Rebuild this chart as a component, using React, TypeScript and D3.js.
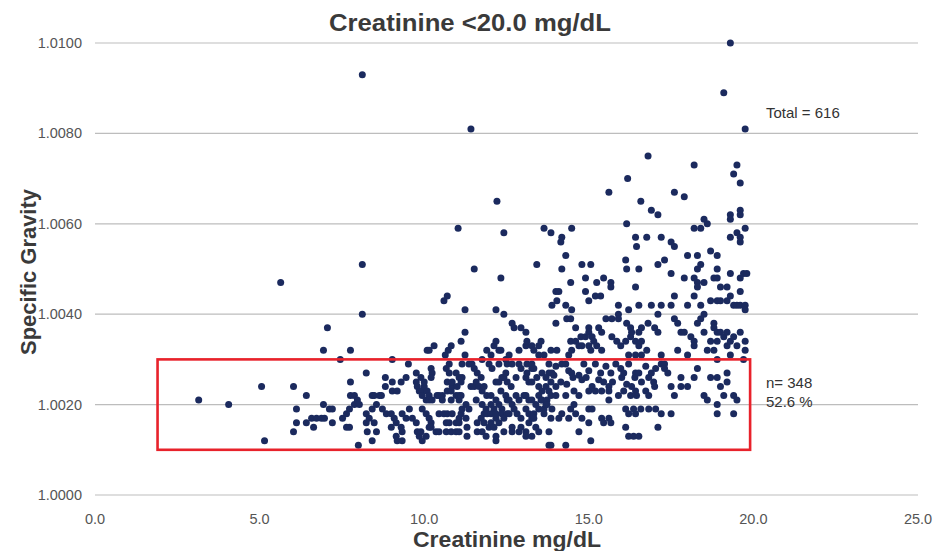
import React, { useEffect, useRef } from 'react';
import * as d3 from 'd3';

// creatinine (mg/dL), specific gravity
const samples: [number, number][] = [
  [3.15, 1.0021], [4.06, 1.0020], [5.06, 1.0024], [5.15, 1.0012], [5.64, 1.0047],
  [6.03, 1.0024], [6.03, 1.0014], [6.12, 1.0019], [6.12, 1.0016], [6.42, 1.0022],
  [6.42, 1.0016], [6.58, 1.0017], [6.64, 1.0015], [6.73, 1.0017], [6.88, 1.0017],
  [6.97, 1.0017], [6.94, 1.0020], [6.94, 1.0032], [7.06, 1.0037], [7.12, 1.0019],
  [7.21, 1.0019], [7.21, 1.0016], [7.45, 1.0030], [7.52, 1.0017], [7.64, 1.0018],
  [7.64, 1.0015], [7.73, 1.0015], [7.73, 1.0019], [7.76, 1.0032], [7.76, 1.0025],
  [7.76, 1.0022], [7.88, 1.0022], [7.88, 1.0020], [7.97, 1.0021], [8.03, 1.0020],
  [8.0, 1.0011], [8.12, 1.0093], [8.12, 1.0051], [8.12, 1.0040], [8.24, 1.0027],
  [8.24, 1.0018], [8.24, 1.0016], [8.27, 1.0014], [8.33, 1.0017], [8.42, 1.0022],
  [8.42, 1.0019], [8.42, 1.0012], [8.48, 1.0022], [8.48, 1.0016], [8.55, 1.0020],
  [8.55, 1.0014], [8.64, 1.0022], [8.7, 1.0022], [8.73, 1.0019], [8.82, 1.0026],
  [8.82, 1.0024], [8.85, 1.0018], [9.0, 1.0018], [9.0, 1.0015], [9.03, 1.0030],
  [9.03, 1.0025], [9.03, 1.0023], [9.09, 1.0017], [9.15, 1.0016], [9.15, 1.0013],
  [9.18, 1.0023], [9.18, 1.0012], [9.3, 1.0025], [9.3, 1.0015], [9.33, 1.0014],
  [9.33, 1.0012], [9.33, 1.0018], [9.45, 1.0026], [9.45, 1.0017], [9.52, 1.0029],
  [9.55, 1.0019], [9.64, 1.0017], [9.76, 1.0027], [9.76, 1.0025], [9.76, 1.0016],
  [9.79, 1.0024], [9.79, 1.0014], [9.85, 1.0023], [9.85, 1.0013], [9.9, 1.0026],
  [9.9, 1.0014], [9.9, 1.0023], [9.94, 1.0022], [9.94, 1.0012], [9.94, 1.0019],
  [10.0, 1.0024], [10.0, 1.0025], [10.06, 1.0021], [10.06, 1.0018], [10.06, 1.0013],
  [10.09, 1.0032], [10.09, 1.0023], [10.15, 1.0017], [10.15, 1.0022], [10.15, 1.0032],
  [10.15, 1.0021], [10.15, 1.0015], [10.21, 1.0016], [10.21, 1.0015], [10.21, 1.0028],
  [10.24, 1.0027], [10.21, 1.0026], [10.24, 1.0021], [10.3, 1.0033], [10.36, 1.0014],
  [10.39, 1.0022], [10.45, 1.0022], [10.45, 1.0018], [10.45, 1.0014], [10.55, 1.0022],
  [10.55, 1.0021], [10.6, 1.0043], [10.6, 1.0018], [10.64, 1.0031], [10.67, 1.0028],
  [10.67, 1.0016], [10.67, 1.0014], [10.7, 1.0044], [10.7, 1.0023], [10.7, 1.0025],
  [10.7, 1.0018], [10.73, 1.0032], [10.76, 1.0029], [10.76, 1.0027], [10.76, 1.0016],
  [10.82, 1.0033], [10.82, 1.0023], [10.82, 1.0014], [10.82, 1.0021], [10.85, 1.0024],
  [10.85, 1.0025], [10.85, 1.0018], [10.97, 1.0027], [10.97, 1.0014], [10.97, 1.0022],
  [10.97, 1.0016], [11.0, 1.0024], [11.03, 1.0059], [11.06, 1.0026], [11.06, 1.0022],
  [11.06, 1.0017], [11.06, 1.0016], [11.06, 1.0021], [11.06, 1.0014], [11.12, 1.0034],
  [11.12, 1.0025], [11.12, 1.0022], [11.12, 1.0018], [11.15, 1.0019], [11.15, 1.0029],
  [11.15, 1.0026], [11.24, 1.0041], [11.24, 1.0036], [11.24, 1.0031], [11.27, 1.0020],
  [11.27, 1.0017], [11.3, 1.0015], [11.3, 1.0013], [11.36, 1.0029], [11.36, 1.0019],
  [11.42, 1.0081], [11.42, 1.0024], [11.45, 1.0029], [11.52, 1.0050], [11.52, 1.0028],
  [11.52, 1.0024], [11.58, 1.0025], [11.58, 1.0021], [11.61, 1.0027], [11.61, 1.0016],
  [11.61, 1.0014], [11.67, 1.0024], [11.73, 1.0026], [11.73, 1.0017], [11.76, 1.0030],
  [11.76, 1.0020], [11.76, 1.0023], [11.76, 1.0014], [11.82, 1.0024], [11.82, 1.0016],
  [11.82, 1.0018], [11.88, 1.0019], [11.88, 1.0013], [11.9, 1.0032], [11.9, 1.0022],
  [11.91, 1.0018], [11.97, 1.0029], [11.97, 1.0015], [12.03, 1.0031], [12.03, 1.0020],
  [12.03, 1.0018], [12.03, 1.0022], [12.03, 1.0016], [12.06, 1.0028], [12.12, 1.0033],
  [12.12, 1.0019], [12.12, 1.0015], [12.18, 1.0034], [12.18, 1.0041], [12.18, 1.0025],
  [12.18, 1.0017], [12.18, 1.0012], [12.18, 1.0013], [12.18, 1.0021], [12.18, 1.0018],
  [12.21, 1.0065], [12.27, 1.0032], [12.27, 1.0025], [12.27, 1.0020], [12.27, 1.0016],
  [12.27, 1.0029], [12.33, 1.0048], [12.33, 1.0023], [12.33, 1.0032], [12.36, 1.0019],
  [12.36, 1.0026], [12.36, 1.0018], [12.42, 1.0058], [12.42, 1.0040], [12.42, 1.0026],
  [12.42, 1.0017], [12.42, 1.0014], [12.48, 1.0027], [12.48, 1.0022], [12.48, 1.0030],
  [12.52, 1.0029], [12.52, 1.0021], [12.52, 1.0018], [12.52, 1.0025], [12.58, 1.0031],
  [12.58, 1.0021], [12.58, 1.0018], [12.64, 1.0024], [12.67, 1.0038], [12.67, 1.0020],
  [12.67, 1.0014], [12.67, 1.0029], [12.67, 1.0015], [12.73, 1.0037], [12.73, 1.0019],
  [12.79, 1.0026], [12.79, 1.0022], [12.82, 1.0018], [12.88, 1.0014], [12.88, 1.0032],
  [12.88, 1.0029], [12.88, 1.0021], [12.94, 1.0037], [12.94, 1.0015], [12.94, 1.0028],
  [12.94, 1.0017], [13.03, 1.0022], [13.09, 1.0036], [13.09, 1.0026], [13.09, 1.0022],
  [13.09, 1.0014], [13.09, 1.0033], [13.09, 1.0019], [13.09, 1.0013], [13.12, 1.0034],
  [13.12, 1.0027], [13.12, 1.0029], [13.18, 1.0025], [13.18, 1.0021], [13.18, 1.0018],
  [13.18, 1.0016], [13.27, 1.0033], [13.27, 1.0028], [13.27, 1.0025], [13.27, 1.0021],
  [13.27, 1.0017], [13.27, 1.0013], [13.27, 1.0029], [13.33, 1.0032], [13.33, 1.0018],
  [13.33, 1.0028], [13.33, 1.0017], [13.39, 1.0020], [13.39, 1.0015], [13.42, 1.0051],
  [13.42, 1.0026], [13.48, 1.0033], [13.48, 1.0031], [13.48, 1.0024], [13.48, 1.0022],
  [13.48, 1.0019], [13.48, 1.0014], [13.55, 1.0034], [13.55, 1.0021], [13.58, 1.0027],
  [13.58, 1.0023], [13.58, 1.0021], [13.64, 1.0059], [13.64, 1.0031], [13.64, 1.0019],
  [13.64, 1.0018], [13.7, 1.0020], [13.7, 1.0026], [13.7, 1.0024], [13.73, 1.0021],
  [13.73, 1.0020], [13.79, 1.0027], [13.79, 1.0014], [13.79, 1.0029], [13.79, 1.0023],
  [13.79, 1.0011], [13.85, 1.0058], [13.85, 1.0032], [13.85, 1.0022], [13.85, 1.0025],
  [13.85, 1.0017], [13.85, 1.0011], [13.88, 1.0042], [13.88, 1.0027], [13.88, 1.0019],
  [13.94, 1.00265], [14.0, 1.0045], [14.0, 1.0038], [14.0, 1.00285], [14.0, 1.0024],
  [14.0, 1.0022], [14.03, 1.0043], [14.03, 1.0032], [14.09, 1.0045], [14.09, 1.0017],
  [14.15, 1.0056], [14.15, 1.0025], [14.18, 1.0057], [14.18, 1.0050], [14.18, 1.0029],
  [14.18, 1.0018], [14.3, 1.0053], [14.3, 1.0042], [14.3, 1.0029], [14.3, 1.0022],
  [14.3, 1.0011], [14.33, 1.0039], [14.33, 1.00245], [14.39, 1.0031], [14.39, 1.00275],
  [14.39, 1.0017], [14.45, 1.0047], [14.45, 1.0039], [14.45, 1.0034], [14.45, 1.0019],
  [14.48, 1.0059], [14.48, 1.0041], [14.48, 1.0032], [14.48, 1.0027], [14.52, 1.0026],
  [14.55, 1.0023], [14.55, 1.0020], [14.6, 1.0037], [14.6, 1.0034], [14.6, 1.0018],
  [14.7, 1.0033], [14.7, 1.00265], [14.7, 1.0022], [14.7, 1.0014], [14.76, 1.0035],
  [14.79, 1.0051], [14.79, 1.0033], [14.79, 1.00255], [14.79, 1.0017], [14.85, 1.0029],
  [14.9, 1.0048], [14.9, 1.0045], [14.9, 1.0035], [14.92, 1.0026], [15.0, 1.0043],
  [15.0, 1.0037], [15.0, 1.0036], [15.0, 1.0033], [15.0, 1.00275], [15.0, 1.0023],
  [15.0, 1.0019], [15.0, 1.0016], [15.06, 1.0051], [15.06, 1.0032], [15.06, 1.0012],
  [15.1, 1.0035], [15.1, 1.0024], [15.1, 1.0019], [15.15, 1.0034], [15.2, 1.0044],
  [15.2, 1.0029], [15.2, 1.0023], [15.24, 1.0047], [15.24, 1.0033], [15.3, 1.0037],
  [15.3, 1.00255], [15.36, 1.0044], [15.36, 1.0027], [15.39, 1.0036], [15.39, 1.0032],
  [15.39, 1.0023], [15.39, 1.0017], [15.45, 1.0048], [15.45, 1.0025], [15.45, 1.0016],
  [15.52, 1.0039], [15.52, 1.00285], [15.61, 1.0067], [15.61, 1.0024], [15.61, 1.0023],
  [15.61, 1.0017], [15.61, 1.0021], [15.67, 1.0047], [15.67, 1.0046], [15.67, 1.0027],
  [15.67, 1.0016], [15.7, 1.0039], [15.7, 1.0035], [15.72, 1.0025], [15.82, 1.0029],
  [15.85, 1.0034], [15.9, 1.0042], [15.9, 1.0040], [15.9, 1.0039], [15.9, 1.0022],
  [15.97, 1.0033], [15.97, 1.0028], [16.0, 1.0026], [16.06, 1.0027], [16.06, 1.0023],
  [16.12, 1.0052], [16.12, 1.0034], [16.12, 1.0019], [16.12, 1.0015], [16.15, 1.0060],
  [16.15, 1.0050], [16.15, 1.0038], [16.15, 1.00245], [16.18, 1.0070], [16.21, 1.0041],
  [16.21, 1.0031], [16.21, 1.0029], [16.21, 1.0018], [16.21, 1.0013], [16.27, 1.0037],
  [16.27, 1.0035], [16.27, 1.0022], [16.3, 1.0036], [16.3, 1.0024], [16.36, 1.0019],
  [16.36, 1.0013], [16.42, 1.0057], [16.42, 1.0046], [16.42, 1.0034], [16.42, 1.0031],
  [16.42, 1.0027], [16.4, 1.0026], [16.42, 1.0023], [16.42, 1.0018], [16.45, 1.0055],
  [16.45, 1.0022], [16.52, 1.0050], [16.52, 1.0042], [16.52, 1.0036], [16.52, 1.0033],
  [16.52, 1.0027], [16.52, 1.0013], [16.58, 1.0065], [16.58, 1.0019], [16.6, 1.0037],
  [16.6, 1.0034], [16.6, 1.0031], [16.6, 1.0025], [16.73, 1.00285], [16.73, 1.0023],
  [16.76, 1.0057], [16.76, 1.0032], [16.82, 1.0026], [16.82, 1.0022], [16.82, 1.0019],
  [16.8, 1.0075], [16.9, 1.0063], [16.9, 1.0027], [16.97, 1.0025], [16.9, 1.0042],
  [16.8, 1.0038], [17.0, 1.0037], [17.03, 1.0028], [17.03, 1.0019], [17.0, 1.0024],
  [17.1, 1.0062], [17.1, 1.0051], [17.1, 1.0040], [17.1, 1.0036], [17.1, 1.0015],
  [17.2, 1.0057], [17.2, 1.0042], [17.2, 1.0031], [17.2, 1.0029], [17.2, 1.0018],
  [17.3, 1.0052], [17.3, 1.0029], [17.3, 1.0028], [17.4, 1.0027], [17.5, 1.0056],
  [17.5, 1.0049], [17.5, 1.0042], [17.5, 1.0024], [17.5, 1.0018], [17.6, 1.0067],
  [17.6, 1.0055], [17.6, 1.0044], [17.6, 1.0039], [17.6, 1.0022], [17.7, 1.0038],
  [17.7, 1.0032], [17.8, 1.0036], [17.8, 1.0026], [17.8, 1.0024], [17.9, 1.0066],
  [17.9, 1.0048], [17.9, 1.0036], [18.0, 1.0053], [18.0, 1.0042], [18.0, 1.0031],
  [18.0, 1.0024], [18.1, 1.0035], [18.2, 1.0073], [18.2, 1.0059], [18.2, 1.0048],
  [18.2, 1.0044], [18.2, 1.0034], [18.2, 1.0033], [18.2, 1.0026], [18.3, 1.0053],
  [18.3, 1.0050], [18.3, 1.0047], [18.3, 1.0046], [18.3, 1.0038], [18.3, 1.0028],
  [18.4, 1.0059], [18.4, 1.0051], [18.4, 1.0042], [18.4, 1.0039], [18.5, 1.0061],
  [18.5, 1.0047], [18.5, 1.0040], [18.5, 1.0036], [18.5, 1.0022], [18.6, 1.0060],
  [18.6, 1.0032], [18.6, 1.0021], [18.7, 1.0054], [18.7, 1.0043], [18.7, 1.0034],
  [18.7, 1.0026], [18.8, 1.0048], [18.8, 1.0038], [18.8, 1.0037], [18.8, 1.0032],
  [18.9, 1.0053], [18.9, 1.0050], [18.9, 1.0048], [18.9, 1.0043], [18.9, 1.0036],
  [18.9, 1.0034], [18.9, 1.0030], [18.9, 1.0026], [18.9, 1.0020], [18.9, 1.0018],
  [19.0, 1.0046], [19.0, 1.0043], [19.0, 1.0036], [19.0, 1.0024], [19.1, 1.0089],
  [19.1, 1.0035], [19.1, 1.0022], [19.2, 1.0046], [19.2, 1.0043], [19.2, 1.0036],
  [19.2, 1.0033], [19.2, 1.0027], [19.2, 1.0025], [19.3, 1.0100], [19.3, 1.0062],
  [19.3, 1.0061], [19.3, 1.0057], [19.3, 1.0049], [19.3, 1.0044], [19.3, 1.0034],
  [19.3, 1.0031], [19.4, 1.0071], [19.4, 1.0042], [19.4, 1.0035], [19.4, 1.0022],
  [19.4, 1.0018], [19.5, 1.0073], [19.5, 1.0058], [19.5, 1.0042], [19.5, 1.0033],
  [19.5, 1.0021], [19.6, 1.0069], [19.6, 1.0063], [19.6, 1.0062], [19.6, 1.0057],
  [19.6, 1.0056], [19.6, 1.0048], [19.6, 1.0045], [19.6, 1.0042], [19.6, 1.0036],
  [19.7, 1.0049], [19.7, 1.0030], [19.75, 1.0081], [19.75, 1.0059], [19.75, 1.0042],
  [19.75, 1.0041], [19.75, 1.0034], [19.75, 1.0032], [19.8, 1.0049],
];

const xTicks = [0, 5, 10, 15, 20, 25];
const yTicks = [1.0, 1.002, 1.004, 1.006, 1.008, 1.01];

// highlighted region drawn in red
const boxCreatinine = [1.9, 19.9];
const boxGravity = [1.001, 1.003];

const totalLabel = 'Total = 616';
const boxLabels = ['n= 348', '52.6 %'];

const App: React.FC = () => {
  const svgRef = useRef<SVGSVGElement>(null);

  const width = 934;
  const height = 551;

  useEffect(() => {
    if (!svgRef.current) return;
    document.body.style.margin = '0';

    const svg = d3.select(svgRef.current);
    svg.selectAll('*').remove();

    const font = 'Arial, "Liberation Sans", sans-serif';

    const x = d3.scaleLinear().domain([0, 25]).range([95, 918]);
    const y = d3.scaleLinear().domain([1.0, 1.01]).range([495, 43]);

    // gridlines
    svg.append('g')
      .selectAll('line')
      .data(yTicks)
      .join('line')
      .attr('x1', x(0))
      .attr('x2', x(25))
      .attr('y1', d => y(d))
      .attr('y2', d => y(d))
      .attr('stroke', '#bdbdbd')
      .attr('stroke-width', 1.2);

    // y tick labels
    svg.append('g')
      .selectAll('text')
      .data(yTicks)
      .join('text')
      .attr('x', 82)
      .attr('y', d => y(d) + 5)
      .attr('text-anchor', 'end')
      .attr('font-family', font)
      .attr('font-size', 14.5)
      .attr('fill', '#555')
      .text(d => d3.format('.4f')(d));

    // x tick labels
    svg.append('g')
      .selectAll('text')
      .data(xTicks)
      .join('text')
      .attr('x', d => x(d))
      .attr('y', 524)
      .attr('text-anchor', 'middle')
      .attr('font-family', font)
      .attr('font-size', 14.5)
      .attr('fill', '#555')
      .text(d => d3.format('.1f')(d));

    // points
    svg.append('g')
      .selectAll('circle')
      .data(samples)
      .join('circle')
      .attr('cx', d => x(d[0]))
      .attr('cy', d => y(d[1]))
      .attr('r', 3.5)
      .attr('fill', '#1b2a5e');

    // red box
    svg.append('rect')
      .attr('x', x(boxCreatinine[0]))
      .attr('y', y(boxGravity[1]))
      .attr('width', x(boxCreatinine[1]) - x(boxCreatinine[0]))
      .attr('height', y(boxGravity[0]) - y(boxGravity[1]))
      .attr('fill', 'none')
      .attr('stroke', '#e8222b')
      .attr('stroke-width', 2.6);

    // annotations
    svg.append('text')
      .attr('x', 766)
      .attr('y', 118)
      .attr('font-family', font)
      .attr('font-size', 15)
      .attr('fill', '#333')
      .text(totalLabel);

    svg.append('g')
      .selectAll('text')
      .data(boxLabels)
      .join('text')
      .attr('x', 766)
      .attr('y', (d, i) => 388 + i * 19)
      .attr('font-family', font)
      .attr('font-size', 15)
      .attr('fill', '#333')
      .text(d => d);

    // titles
    svg.append('text')
      .attr('x', 470)
      .attr('y', 31)
      .attr('text-anchor', 'middle')
      .attr('font-family', font)
      .attr('font-weight', 'bold')
      .attr('font-size', 24)
      .attr('fill', '#3a3a3a')
      .attr('textLength', 282)
      .attr('lengthAdjust', 'spacingAndGlyphs')
      .text('Creatinine <20.0 mg/dL');

    svg.append('text')
      .attr('x', 507)
      .attr('y', 547)
      .attr('text-anchor', 'middle')
      .attr('font-family', font)
      .attr('font-weight', 'bold')
      .attr('font-size', 22)
      .attr('fill', '#3a3a3a')
      .attr('textLength', 188)
      .attr('lengthAdjust', 'spacingAndGlyphs')
      .text('Creatinine mg/dL');

    svg.append('text')
      .attr('transform', 'translate(36,272) rotate(-90)')
      .attr('text-anchor', 'middle')
      .attr('font-family', font)
      .attr('font-weight', 'bold')
      .attr('font-size', 22)
      .attr('fill', '#3a3a3a')
      .attr('textLength', 166)
      .attr('lengthAdjust', 'spacingAndGlyphs')
      .text('Specific Gravity');
  }, []);

  return (
    <svg ref={svgRef} width={width} height={height} style={{ display: 'block', background: '#fff' }}></svg>
  );
};

export default App;
